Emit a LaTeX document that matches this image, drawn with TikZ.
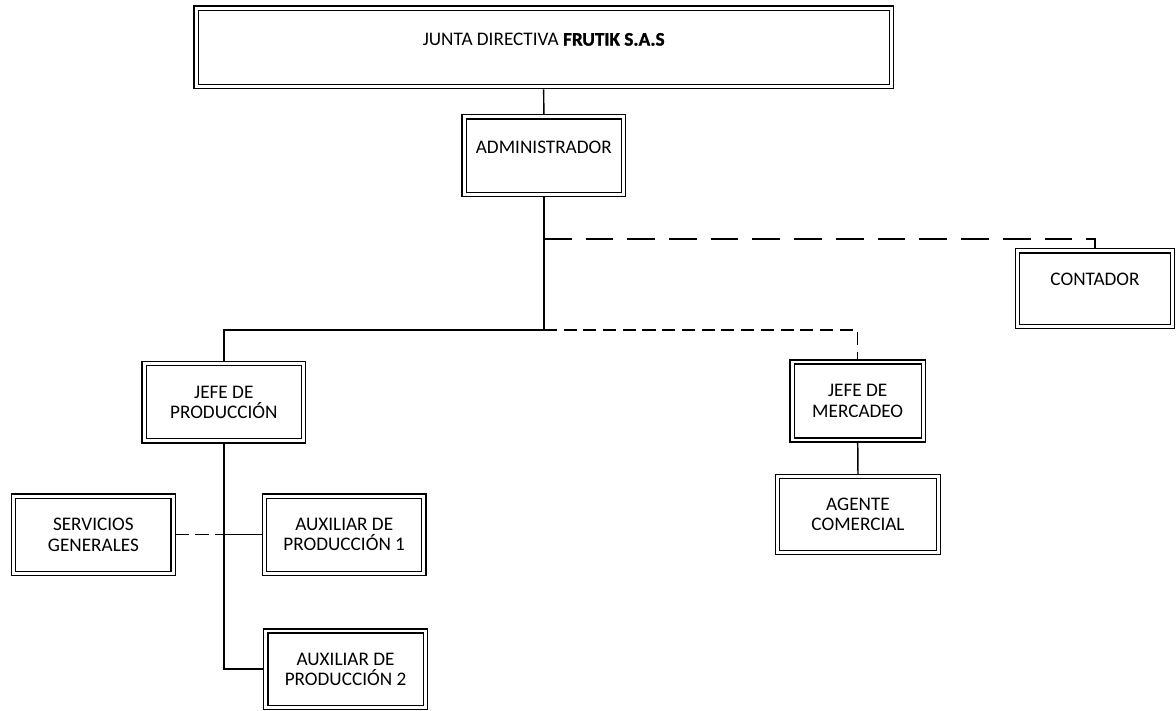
\documentclass[tikz,border=0pt]{standalone}
\usepackage{fontspec}
\setmainfont{Carlito}
\newfontfamily\negrita[FakeBold=1.3]{Carlito Bold}
\usetikzlibrary{calc}

% lift a one-line label inside its box, size kept
\newcommand{\subir}[2]{\raisebox{#1}[\height][\depth]{#2}}

\begin{document}
\begin{tikzpicture}[x=0.75pt, y=-0.75pt,
    cargo/.style={draw, double, double distance=2.2pt, line width=0.9pt,
        inner sep=0pt, outer sep=2pt, align=center,
        minimum width=119.5pt, minimum height=58pt,
        font=\fontsize{14.4}{15.2}\selectfont},
    enlace/.style={line width=1.1pt},
    apoyo/.style={line width=1.1pt, dash pattern=on 9.8pt off 5pt},
    asesoria/.style={line width=1.1pt, dash pattern=on 20.8pt off 10.5pt}]

    \useasboundingbox (0,0) rectangle (1176,710);

    % Top of the chart
    \node[cargo, minimum width=521.5pt, minimum height=59pt] (junta) at (543.7,47.4)
        {\subir{6pt}{JUNTA DIRECTIVA {\negrita FRUTIK S.A.S}}};
    \node[cargo, minimum height=58.3pt] (admin) at (543.8,155.8)
        {\subir{6.5pt}{ADMINISTRADOR}};
    \node[cargo, minimum width=116pt, minimum height=56.8pt] (contador) at (1095,288.8)
        {\subir{6.8pt}{CONTADOR}};

    % Second level
    \node[cargo] (jefeprod) at (223.8,402.2) {JEFE DE\\PRODUCCIÓN};
    \node[cargo, minimum width=98.5pt, minimum height=58.5pt] (jefemerc) at (857.7,401)
        {JEFE DE\\MERCADEO};

    % Third level
    \node[cargo, minimum width=120.5pt, minimum height=56.8pt] (agente) at (858,514.5)
        {AGENTE\\COMERCIAL};
    \node[cargo] (servicios) at (93.4,534.7) {SERVICIOS\\GENERALES};
    \node[cargo] (aux1) at (344.2,534.7) {AUXILIAR DE\\PRODUCCIÓN 1};
    \node[cargo, minimum height=57.3pt] (aux2) at (345.5,669.2) {AUXILIAR DE\\PRODUCCIÓN 2};

    % Branch points
    \coordinate (ramal) at (543.8,239);
    \coordinate (tronco) at (543.8,330);

    % Solid lines
    \draw[enlace] (junta.south) -- (admin.north);
    \draw[enlace] (admin.south) -- (tronco) -| (jefeprod.north);
    \draw[enlace] (jefemerc.south) -- (agente.north);
    \draw[enlace] (jefeprod.south) |- (aux2.west);
    \draw[enlace] (jefeprod.south |- aux1.west) -- (aux1.west);

    % Dashed lines
    \draw[asesoria] (ramal) -| (contador.north);
    \draw[apoyo] (tronco) -| (jefemerc.north);
    \draw[apoyo] (servicios.east) -- (jefeprod.south |- servicios.east);

\end{tikzpicture}
\end{document}
